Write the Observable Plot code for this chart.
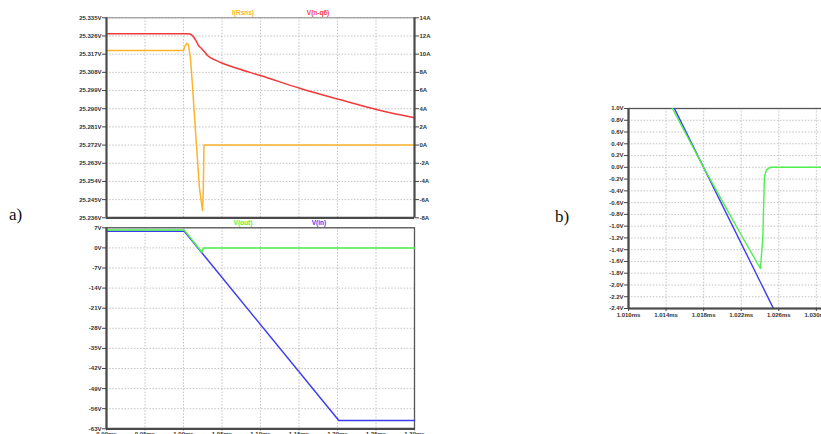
<!DOCTYPE html>
<html>
<head>
<meta charset="utf-8">
<script src="https://cdn.jsdelivr.net/npm/d3@7"></script>
<script src="https://cdn.jsdelivr.net/npm/@observablehq/plot@0.6"></script>
<style>
  html, body { margin: 0; padding: 0; background: #fff; }
  #page { position: relative; width: 821px; height: 434px; overflow: hidden; background: #fff; }
  #page svg { position: absolute; overflow: visible; }
  .lbl { position: absolute; font: bold 6.5px "Liberation Sans", Arial, sans-serif; transform: translate(-50%, -50%); white-space: nowrap; }
  .tag { position: absolute; font: 17px "Liberation Serif", "DejaVu Serif", serif; color: #111; transform: translate(0, -50%); }
</style>
</head>
<body>
<div id="page"></div>
<script>
// ---- time axis ticks (ms) ----
const ticksTimeA = [0.90, 0.95, 1.00, 1.05, 1.10, 1.15, 1.20, 1.25, 1.30];
const ticksTimeB = [1.010, 1.014, 1.018, 1.022, 1.026, 1.030, 1.034];

// ---- a) upper pane: V(n-q6) on the left axis, I(Rsns) on the right axis ----
const ticksVoltTop = [25.335, 25.326, 25.317, 25.308, 25.299, 25.290, 25.281, 25.272, 25.263, 25.254, 25.245, 25.236];
const ticksAmpTop = [14, 12, 10, 8, 6, 4, 2, 0, -2, -4, -6, -8];

const nq6Time = [0.900, 1.0065, 1.0117, 1.0160, 1.0195, 1.0234, 1.0270, 1.0312, 1.0400, 1.0481, 1.0701, 1.1000, 1.1519, 1.2039, 1.2558, 1.3000];
const nq6Volt = [25.3271, 25.3271, 25.3262, 25.3238, 25.3213, 25.3198, 25.3183, 25.3163, 25.3143, 25.3129, 25.3099, 25.3064, 25.3000, 25.2944, 25.2891, 25.2855];

const rsnsTime = [0.900, 1.0000, 1.0019, 1.0045, 1.0065, 1.0091, 1.0117, 1.0156, 1.0208, 1.0247, 1.0257, 1.0266, 1.3000];
const rsnsAmp = [10.4, 10.4, 10.9, 11.2, 11.0, 9.5, 6.5, 1.5, -4.8, -7.2, -5.0, 0, 0];

// ---- a) lower pane: V(out), V(in) ----
const ticksVoltLow = [7, 0, -7, -14, -21, -28, -35, -42, -49, -56, -63];
const outTime = [0.900, 1.001, 1.0185, 1.0240, 1.0250, 1.0260, 1.300];
const outVolt = [6.2, 6.2, 0.3, -1.5, -0.4, 0, 0];
const inTime = [0.900, 1.001, 1.2017, 1.300];
const inVolt = [5.8, 5.8, -60.1, -60.1];

// ---- b) detail of the V(out) dip ----
const ticksVoltB = [1.0, 0.8, 0.6, 0.4, 0.2, 0.0, -0.2, -0.4, -0.6, -0.8, -1.0, -1.2, -1.4, -1.6, -1.8, -2.0, -2.2, -2.4];
const outTimeB = [1.0140, 1.01468, 1.0180, 1.0200, 1.0220, 1.02404, 1.0243, 1.02447, 1.0247, 1.0251, 1.0347];
const outVoltB = [1.20, 1.0, 0.0, -0.58, -1.15, -1.72, -1.20, -0.15, -0.04, 0, 0];
const inTimeB = [1.0140, 1.0260];
const inVoltB = [1.287, -2.584];

const colors = { nq6: "#f23a3a", rsns: "#fdb42b", out: "#4ef04a", in: "#3d3df0" };

const zip = (xs, ys) => xs.map((x, i) => ({ x, y: ys[i] }));
const page = document.getElementById("page");

const baseStyle = {
  fontFamily: "Liberation Sans, Arial, sans-serif",
  fontSize: "6px",
  fontWeight: "bold",
  color: "#333",
  background: "transparent",
  overflow: "visible"
};
const grid = { stroke: "#b4b4b4", strokeOpacity: 1, strokeDasharray: "1.5,1.6", strokeWidth: 0.8 };
const axisLine = { stroke: "#4a4a4a", strokeWidth: 2.2 };

function place(svg, left, top) {
  svg.style.left = left + "px";
  svg.style.top = top + "px";
  page.appendChild(svg);
}
function label(text, x, y, color, cls = "lbl") {
  const d = document.createElement("div");
  d.className = cls;
  d.textContent = text;
  d.style.left = x + "px";
  d.style.top = y + "px";
  if (color) d.style.color = color;
  page.appendChild(d);
}

// current on the right axis shares the vertical scale of the left voltage axis
const ampToVolt = d3.scaleLinear([-8, 14], [25.236, 25.335]);

// a) upper pane
const upper = Plot.plot({
  width: 450, height: 222,
  marginLeft: 106, marginRight: 36, marginTop: 17.3, marginBottom: 4.7,
  style: baseStyle,
  x: { domain: [0.90, 1.30], axis: null },
  y: { domain: [25.236, 25.335], axis: null },
  marks: [
    Plot.gridX(ticksTimeA, grid),
    Plot.gridY(ticksVoltTop, grid),
    Plot.frame({ stroke: "#8a8a8a", strokeWidth: 1 }),
    Plot.line(zip(rsnsTime, rsnsAmp), { x: "x", y: d => ampToVolt(d.y), stroke: colors.rsns, strokeWidth: 1.5 }),
    Plot.line(zip(nq6Time, nq6Volt), { x: "x", y: "y", stroke: colors.nq6, strokeWidth: 1.5, curve: "monotone-x" }),
    Plot.ruleX([0.90], axisLine),
    Plot.ruleX([1.30], axisLine),
    Plot.ruleY([25.236], axisLine),
    Plot.axisY(ticksVoltTop, { anchor: "left", label: null, tickSize: 4, tickPadding: 1, tickFormat: d => d.toFixed(3) + "V", stroke: "#444" }),
    Plot.axisY(ticksAmpTop.map(a => ampToVolt(a)), { anchor: "right", label: null, tickSize: 4, tickPadding: 1, tickFormat: v => Math.round(ampToVolt.invert(v)) + "A", stroke: "#444" })
  ]
});
place(upper, 0, 0);

// a) lower pane
const lower = Plot.plot({
  width: 450, height: 230,
  marginLeft: 106, marginRight: 36, marginTop: 5.3, marginBottom: 23.7,
  style: baseStyle,
  x: { domain: [0.90, 1.30], axis: null },
  y: { domain: [-63, 7], axis: null },
  marks: [
    Plot.gridX(ticksTimeA, grid),
    Plot.gridY(ticksVoltLow, grid),
    Plot.frame({ stroke: "#555", strokeWidth: 1.3 }),
    Plot.line(zip(inTime, inVolt), { x: "x", y: "y", stroke: colors.in, strokeWidth: 1.5 }),
    Plot.line(zip(outTime, outVolt), { x: "x", y: "y", stroke: colors.out, strokeWidth: 1.5 }),
    Plot.ruleX([0.90], axisLine),
    Plot.ruleY([-63], axisLine),
    Plot.axisY(ticksVoltLow, { anchor: "left", label: null, tickSize: 4, tickPadding: 1, tickFormat: d => d + "V", stroke: "#444" }),
    Plot.axisX(ticksTimeA, { anchor: "bottom", label: null, tickSize: 2, tickPadding: 1, tickFormat: d => d.toFixed(2) + "ms", stroke: "#444" })
  ]
});
place(lower, 0, 222);

// b) detail pane
const detail = Plot.plot({
  width: 300, height: 240,
  marginLeft: 68, marginRight: 0, marginTop: 13, marginBottom: 27,
  style: baseStyle,
  x: { domain: [1.010, 1.0347], axis: null },
  y: { domain: [-2.4, 1.0], axis: null },
  marks: [
    Plot.gridX(ticksTimeB, grid),
    Plot.gridY(ticksVoltB, grid),
    Plot.frame({ stroke: "#555", strokeWidth: 1.3 }),
    Plot.line(zip(inTimeB, inVoltB), { x: "x", y: "y", stroke: colors.in, strokeWidth: 1.4, clip: true }),
    Plot.line(zip(outTimeB, outVoltB), { x: "x", y: "y", stroke: colors.out, strokeWidth: 1.4, clip: true }),
    Plot.ruleX([1.010], axisLine),
    Plot.ruleY([-2.4], axisLine),
    Plot.axisY(ticksVoltB, { anchor: "left", label: null, tickSize: 4, tickPadding: 1, tickFormat: d => d.toFixed(1) + "V", stroke: "#444" }),
    Plot.axisX(ticksTimeB, { anchor: "bottom", label: null, tickSize: 3, tickPadding: 1, tickFormat: d => d.toFixed(3) + "ms", stroke: "#444" })
  ]
});
place(detail, 560, 95);

// trace names
label("I(Rsns)", 243, 12, colors.rsns);
label("V(n-q6)", 318, 12, colors.nq6);
label("V(out)", 243, 222, colors.out);
label("V(in)", 319, 222, colors.in);

// panel tags
label("a)", 9, 215, null, "tag");
label("b)", 555, 217, null, "tag");
</script>
</body>
</html>
